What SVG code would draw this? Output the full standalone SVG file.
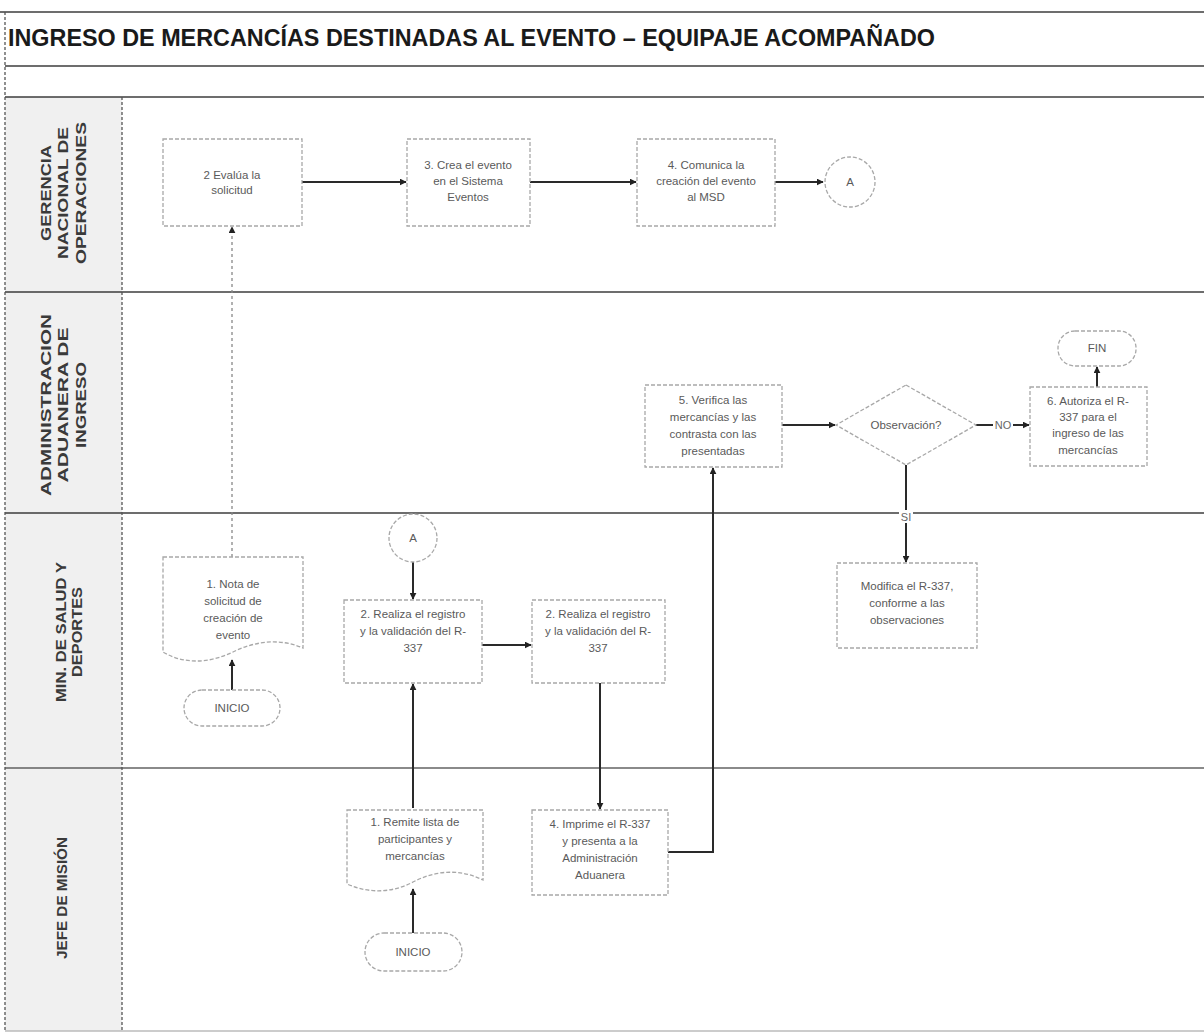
<svg xmlns="http://www.w3.org/2000/svg" width="1204" height="1036" viewBox="0 0 1204 1036">
<defs>
<style>
.node{fill:#ffffff;stroke:#a8a8a8;stroke-width:1.3;stroke-dasharray:4 2}
.t{font-family:"Liberation Sans",Arial,sans-serif;font-size:11.5px;fill:#5a5a5a;text-anchor:middle}
.lane{font-family:"Liberation Sans",Arial,sans-serif;font-size:15px;font-weight:bold;fill:#3a3a3a;text-anchor:middle}
.edge{fill:none;stroke:#2a2a2a;stroke-width:2}
.dash{fill:none;stroke:#888;stroke-width:1.3;stroke-dasharray:3 3}
.sep{stroke:#3c3c3c;stroke-width:1.5}
.elab{font-family:"Liberation Sans",Arial,sans-serif;font-size:11px;fill:#666;text-anchor:middle}
</style>
<marker id="arrs" viewBox="0 0 10 10" refX="9" refY="5" markerWidth="7" markerHeight="7" orient="auto" markerUnits="userSpaceOnUse">
<path d="M0,0 L10,5 L0,10 z" fill="#222"/>
</marker>
</defs>
<rect x="0" y="0" width="1204" height="1036" fill="#ffffff"/>

<g id="frame">
<rect x="5" y="97" width="117" height="934" fill="#f0f0f0"/>
<line x1="0" y1="12" x2="1204" y2="12" class="sep"/>
<line x1="5" y1="66" x2="1204" y2="66" class="sep"/>
<line x1="5" y1="97" x2="1204" y2="97" class="sep"/>
<line x1="5" y1="292" x2="1204" y2="292" class="sep"/>
<line x1="5" y1="513" x2="1204" y2="513" class="sep"/>
<line x1="5" y1="768" x2="1204" y2="768" class="sep" stroke-opacity="0.8"/>
<line x1="5" y1="1031" x2="1204" y2="1031" stroke="#bbb" stroke-width="1.5"/>
<line x1="5" y1="12" x2="5" y2="1031" stroke="#555" stroke-width="1.3" stroke-dasharray="3 2"/>
<line x1="122" y1="97" x2="122" y2="1031" stroke="#555" stroke-width="1.3" stroke-dasharray="3 2"/>
<text x="8" y="46" font-family="'Liberation Sans',Arial,sans-serif" font-size="23" font-weight="bold" fill="#1a1a1a" textLength="927" lengthAdjust="spacingAndGlyphs">INGRESO DE MERCANCÍAS DESTINADAS AL EVENTO – EQUIPAJE ACOMPAÑADO</text>
</g>

<g id="lane-labels">
<text class="lane" transform="translate(51,193) rotate(-90)" textLength="96" lengthAdjust="spacingAndGlyphs">GERENCIA</text>
<text class="lane" transform="translate(68,193) rotate(-90)" textLength="132" lengthAdjust="spacingAndGlyphs">NACIONAL DE</text>
<text class="lane" transform="translate(86,193) rotate(-90)" textLength="142" lengthAdjust="spacingAndGlyphs">OPERACIONES</text>
<text class="lane" transform="translate(51,405) rotate(-90)" textLength="182" lengthAdjust="spacingAndGlyphs">ADMINISTRACION</text>
<text class="lane" transform="translate(68,405) rotate(-90)" textLength="155" lengthAdjust="spacingAndGlyphs">ADUANERA DE</text>
<text class="lane" transform="translate(86,405) rotate(-90)" textLength="86" lengthAdjust="spacingAndGlyphs">INGRESO</text>
<text class="lane" transform="translate(66,632) rotate(-90)" textLength="140" lengthAdjust="spacingAndGlyphs">MIN. DE SALUD Y</text>
<text class="lane" transform="translate(82,632) rotate(-90)" textLength="90" lengthAdjust="spacingAndGlyphs">DEPORTES</text>
<text class="lane" transform="translate(67,898) rotate(-90)" textLength="122" lengthAdjust="spacingAndGlyphs">JEFE DE MISIÓN</text>
</g>

<g id="connectors">
<line class="edge" x1="302" y1="182" x2="406" y2="182" marker-end="url(#arrs)"/>
<line class="edge" x1="530" y1="182" x2="636" y2="182" marker-end="url(#arrs)"/>
<line class="edge" x1="775" y1="182" x2="823" y2="182" marker-end="url(#arrs)"/>
<line class="dash" x1="232" y1="557" x2="232" y2="227" marker-end="url(#arrs)"/>
<line class="edge" x1="232" y1="690" x2="232" y2="660" marker-end="url(#arrs)"/>
<line class="edge" x1="413" y1="562" x2="413" y2="599" marker-end="url(#arrs)"/>
<line class="edge" x1="482" y1="645" x2="531" y2="645" marker-end="url(#arrs)"/>
<line class="edge" x1="600" y1="683" x2="600" y2="809" marker-end="url(#arrs)"/>
<line class="edge" x1="413" y1="808" x2="413" y2="684" marker-end="url(#arrs)"/>
<line class="edge" x1="413" y1="933" x2="413" y2="889" marker-end="url(#arrs)"/>
<polyline class="edge" points="668,852 713,852 713,468" marker-end="url(#arrs)"/>
<line class="edge" x1="782" y1="425" x2="835" y2="425" marker-end="url(#arrs)"/>
<line class="edge" x1="976" y1="425" x2="1029" y2="425" marker-end="url(#arrs)"/>
<line class="edge" x1="1097" y1="387" x2="1097" y2="367" marker-end="url(#arrs)"/>
<line class="edge" x1="906" y1="465" x2="906" y2="562" marker-end="url(#arrs)"/>
<rect x="993" y="418" width="20" height="13" fill="#fff"/>
<text class="elab" x="1003" y="429">NO</text>
<rect x="899" y="510" width="14" height="13" fill="#fff"/>
<text class="elab" x="906" y="521">SI</text>
</g>

<g id="n-evalua">
<rect class="node" x="163" y="139" width="139" height="87"/>
<text class="t" x="232" y="179">2 Evalúa la</text>
<text class="t" x="232" y="194">solicitud</text>
</g>
<g id="n-crea">
<rect class="node" x="407" y="139" width="123" height="87"/>
<text class="t" x="468" y="169">3. Crea el evento</text>
<text class="t" x="468" y="185">en el Sistema</text>
<text class="t" x="468" y="201">Eventos</text>
</g>
<g id="n-comunica">
<rect class="node" x="637" y="139" width="138" height="87"/>
<text class="t" x="706" y="169">4. Comunica la</text>
<text class="t" x="706" y="185">creación del evento</text>
<text class="t" x="706" y="201">al MSD</text>
</g>
<g id="n-conA1">
<circle class="node" cx="850" cy="182" r="25"/>
<text class="t" x="850" y="186">A</text>
</g>

<g id="n-verifica">
<rect class="node" x="645" y="385" width="137" height="82"/>
<text class="t" x="713" y="404">5. Verifica las</text>
<text class="t" x="713" y="421">mercancías y las</text>
<text class="t" x="713" y="438">contrasta con las</text>
<text class="t" x="713" y="455">presentadas</text>
</g>
<g id="n-observacion">
<polygon class="node" points="906,385 976,425 906,465 836,425"/>
<text class="t" x="906" y="429">Observación?</text>
</g>
<g id="n-autoriza">
<rect class="node" x="1030" y="387" width="117" height="79"/>
<text class="t" x="1088" y="405">6. Autoriza el R-</text>
<text class="t" x="1088" y="421">337 para el</text>
<text class="t" x="1088" y="437">ingreso de las</text>
<text class="t" x="1088" y="454">mercancías</text>
</g>
<g id="n-fin">
<rect class="node" x="1058" y="331" width="78" height="35" rx="17"/>
<text class="t" x="1097" y="352">FIN</text>
</g>

<g id="n-nota">
<path class="node" d="M163,557 H303 V648 C280,638 255,641 233,652 C210,663 185,665 163,652 Z"/>
<text class="t" x="233" y="588">1. Nota de</text>
<text class="t" x="233" y="605">solicitud de</text>
<text class="t" x="233" y="622">creación de</text>
<text class="t" x="233" y="639">evento</text>
</g>
<g id="n-inicio1">
<rect class="node" x="184" y="690" width="96" height="36" rx="18"/>
<text class="t" x="232" y="712">INICIO</text>
</g>
<g id="n-conA2">
<circle class="node" cx="413" cy="538" r="24"/>
<text class="t" x="413" y="542">A</text>
</g>
<g id="n-registro1">
<rect class="node" x="344" y="600" width="138" height="83"/>
<text class="t" x="413" y="618">2. Realiza el registro</text>
<text class="t" x="413" y="635">y la validación del R-</text>
<text class="t" x="413" y="652">337</text>
</g>
<g id="n-registro2">
<rect class="node" x="532" y="600" width="133" height="83"/>
<text class="t" x="598" y="618">2. Realiza el registro</text>
<text class="t" x="598" y="635">y la validación del R-</text>
<text class="t" x="598" y="652">337</text>
</g>
<g id="n-modifica">
<rect class="node" x="837" y="563" width="140" height="85"/>
<text class="t" x="907" y="590">Modifica el R-337,</text>
<text class="t" x="907" y="607">conforme a las</text>
<text class="t" x="907" y="624">observaciones</text>
</g>

<g id="n-remite">
<path class="node" d="M347,810 H483 V880 C461,869 437,870 415,881 C393,893 370,894 347,884 Z"/>
<text class="t" x="415" y="826">1. Remite lista de</text>
<text class="t" x="415" y="843">participantes y</text>
<text class="t" x="415" y="860">mercancías</text>
</g>
<g id="n-inicio2">
<rect class="node" x="365" y="933" width="97" height="38" rx="19"/>
<text class="t" x="413" y="956">INICIO</text>
</g>
<g id="n-imprime">
<rect class="node" x="532" y="810" width="136" height="85"/>
<text class="t" x="600" y="828">4. Imprime el R-337</text>
<text class="t" x="600" y="845">y presenta a la</text>
<text class="t" x="600" y="862">Administración</text>
<text class="t" x="600" y="879">Aduanera</text>
</g>
</svg>
